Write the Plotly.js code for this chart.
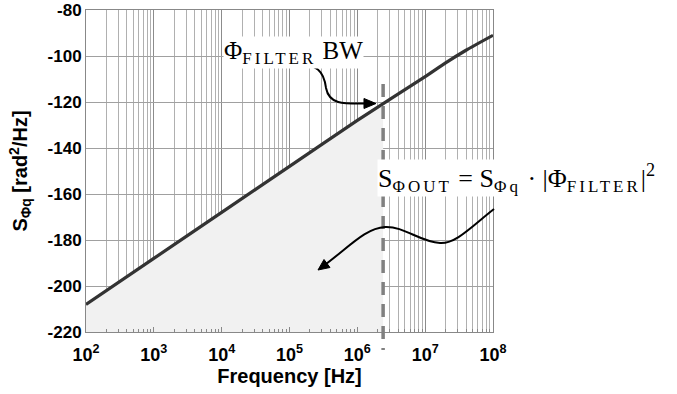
<!DOCTYPE html>
<html>
<head>
<meta charset="utf-8">
<script src="https://cdn.plot.ly/plotly-3.0.1.min.js"></script>
<style>html,body{margin:0;padding:0;background:#fff;}#chart{width:677px;height:394px;}</style>
</head>
<body>
<div id="chart"></div>
<script>
// ---- data ----
const freq = [1e2, 1e3, 1e4, 1e5, 1e6, 1e7, 2e7, 4e7, 1e8];
const psd  = [-208, -188, -168, -148, -128, -109, -103, -97.5, -91];
const bandwidth = 2.4e6;          // Φ_FILTER bandwidth (Hz)
const psdAtBandwidth = -120.4;    // value of the line at the bandwidth
const fillFreq = [1e2, 1e3, 1e4, 1e5, 1e6];
const fillPsd  = [-208, -188, -168, -148, -128];
const xTickVals = [1e2, 1e3, 1e4, 1e5, 1e6, 1e7, 1e8];
const xTickText = ['10<sup>2</sup>','10<sup>3</sup>','10<sup>4</sup>','10<sup>5</sup>','10<sup>6</sup>','10<sup>7</sup>','10<sup>8</sup>'];
const yTickVals = [-220, -200, -180, -160, -140, -120, -100, -80];
const yTickText = ['-220', '-200', '-180', '-160', '-140', '-120', '-100', '-80'];

// ---- layout geometry ----
const W = 677, H = 394;
const M = {l: 86, r: 184, t: 10, b: 62};
const PW = W - M.l - M.r, PH = H - M.t - M.b;
const px = x => (x - M.l) / PW;           // pixel -> paper x
const py = y => (M.t + PH - y) / PH;      // pixel -> paper y
function pathOf(cmds, close) {
  const s = cmds.map(c => {
    const pts = [];
    for (let i = 1; i < c.length; i += 2) pts.push(px(c[i]).toFixed(4) + ',' + py(c[i + 1]).toFixed(4));
    return c[0] + ' ' + pts.join(' ');
  }).join(' ');
  return close ? s + ' Z' : s;
}

const fillX = [fillFreq[0]].concat(fillFreq, [bandwidth, bandwidth]);
const fillY = [-220].concat(fillPsd, [psdAtBandwidth, -220]);

const traces = [
  {x: fillX, y: fillY, mode: 'lines', fill: 'toself', fillcolor: '#f1f1f1',
   line: {width: 0, color: 'rgba(0,0,0,0)'}, hoverinfo: 'skip', showlegend: false},
  {x: freq, y: psd, mode: 'lines', line: {color: '#333333', width: 3.2, shape: 'spline', smoothing: 0.6},
   showlegend: false}
];

const serif = 'Liberation Serif, DejaVu Serif, serif';
const sc = t => '<span style="font-size:17px;letter-spacing:3px">' + t + '</span>';
const layout = {
  width: W, height: H,
  margin: M,
  paper_bgcolor: '#ffffff', plot_bgcolor: '#ffffff',
  font: {family: 'Liberation Sans, Arial, sans-serif', color: '#000'},
  showlegend: false,
  xaxis: {
    type: 'log', range: [2, 8],
    tickmode: 'array', tickvals: xTickVals, ticktext: xTickText,
    tickfont: {size: 18, family: 'Liberation Sans, Arial, sans-serif', weight: 'bold', color: '#000'},
    ticklabelstandoff: 6,
    showgrid: true, gridcolor: '#8c8c8c', gridwidth: 1,
    minor: {dtick: 'D1', showgrid: true, gridcolor: '#b0b0b0', gridwidth: 1, ticks: 'inside', ticklen: 3, tickcolor: '#888'},
    ticks: 'inside', ticklen: 5, tickcolor: '#888',
    showline: true, linecolor: '#888', linewidth: 1, mirror: true,
    zeroline: false,
    title: {text: '<b>Frequency [Hz]</b>', font: {size: 20}, standoff: 3}
  },
  yaxis: {
    range: [-220, -80],
    tickmode: 'array', tickvals: yTickVals, ticktext: yTickText,
    tickfont: {size: 17, family: 'Liberation Sans, Arial, sans-serif', weight: 'bold', color: '#000'},
    showgrid: true, gridcolor: '#a0a0a0', gridwidth: 1,
    ticks: '', showline: true, linecolor: '#888', linewidth: 1, mirror: true,
    zeroline: false,
    title: {text: '<b>S<sub>Φq</sub> [rad<sup>2</sup>/Hz]</b>', font: {size: 20}, standoff: 14}
  },
  shapes: [
    {type: 'line', xref: 'x', yref: 'paper', x0: bandwidth, x1: bandwidth, y0: py(84), y1: py(350),
     line: {color: '#808080', width: 3.5, dash: '13px,9px'}},
    {type: 'path', xref: 'paper', yref: 'paper', layer: 'above',
     path: pathOf([['M', 291, 63], ['C', 318, 63, 324, 72, 326, 88], ['C', 329, 104, 342, 104, 366, 103.5]]),
     line: {color: '#000', width: 2}},
    {type: 'path', xref: 'paper', yref: 'paper', layer: 'above',
     path: pathOf([['M', 376, 103.5], ['L', 364, 98.5], ['L', 364, 108.5]], true),
     fillcolor: '#000', line: {color: '#000', width: 1}},
    {type: 'path', xref: 'paper', yref: 'paper', layer: 'above',
     path: pathOf([['M', 494, 209], ['C', 472, 226, 456, 244, 440, 243], ['C', 420, 242, 404, 226, 385, 227], ['C', 366, 228, 350, 246, 326, 264]]),
     line: {color: '#000', width: 2}},
    {type: 'path', xref: 'paper', yref: 'paper', layer: 'above',
     path: pathOf([['M', 318, 270], ['L', 330, 267.5], ['L', 324, 259.5]], true),
     fillcolor: '#000', line: {color: '#000', width: 1}}
  ],
  annotations: [
    {xref: 'paper', yref: 'paper', x: px(223), y: py(36), xanchor: 'left', text: 'Φ<sub>' + sc('FILTER') + '</sub> BW', showarrow: false,
     font: {family: serif, size: 25, color: '#000'}, bgcolor: '#ffffff', borderpad: 0},
    {xref: 'paper', yref: 'paper', x: px(377), y: py(178), xanchor: 'left', text: 'S<sub>' + sc('ΦOUT') + '</sub> = S<sub>' + sc('Φq') + '</sub> · |Φ<sub>' + sc('FILTER') + '</sub>|<sup>2</sup>', showarrow: false,
     font: {family: serif, size: 26, color: '#000'}, bgcolor: '#ffffff', borderpad: 0}
  ]
};

Plotly.newPlot('chart', traces, layout, {staticPlot: true, displayModeBar: false});
</script>
</body>
</html>
